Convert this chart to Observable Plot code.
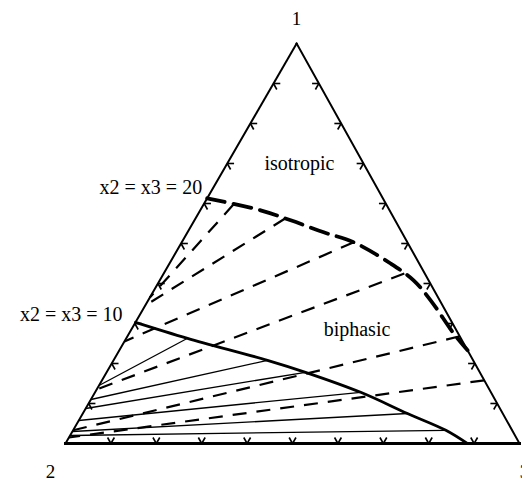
<!DOCTYPE html>
<html>
<head>
<meta charset="utf-8">
<script src="https://cdn.jsdelivr.net/npm/d3@7"></script>
<script src="https://cdn.jsdelivr.net/npm/@observablehq/plot@0.6"></script>
<style>
  html, body { margin: 0; padding: 0; background: #fff; overflow: hidden; }
</style>
</head>
<body>
<div id="chart"></div>
<script>
// Compositions in percent of component 1 (x1) and component 3 (x3); x2 = 100 - x1 - x3.

// Upper phase boundary (heavy dashed)
const upperX1 = [61.3, 58.3, 55.8, 52.8, 50.3, 45.0, 40.8, 35.8, 27.5, 23.3];
const upperX3 = [0, 13.3, 21.2, 30.0, 37.9, 48.7, 55.9, 62.2, 71.5, 76.7];

// Lower phase boundary (solid)
const lowerX1 = [30.3, 26.3, 20.8, 17.8, 12.8, 7.5, 3.3, 0];
const lowerX3 = [0, 13.5, 33.9, 43.8, 58.5, 71.5, 82.1, 88.5];

// Dashed tie lines: from the upper boundary / side 1-3 to side 1-2
const dashTopX1 = [59.8, 56.3, 50.3, 42.5, 26.8, 15.8];
const dashTopX3 = [6.6, 19.8, 37.9, 53.0, 73.2, 84.2];
const dashLeftX1 = [36.5, 34.5, 25.5, 13.5, 3.3, 1.5];

// Solid tie lines: from side 1-2 to the lower boundary
const tieLeftX1 = [14.5, 11.0, 8.75, 5.75, 3.0, 2.0];
const tieEndX1 = [26.3, 20.8, 17.8, 12.8, 7.5, 3.3];
const tieEndX3 = [13.5, 33.9, 43.8, 58.5, 71.5, 82.1];

// Grid tick positions along each side
const tickFractions = [10, 20, 30, 40, 50, 60, 70, 80, 90];

// Labels
const vertexLabels = ["1", "2", "3"];
const boundaryLabels = ["x2 = x3 = 20", "x2 = x3 = 10"];
const regionLabels = ["isotropic", "biphasic"];
const regionX1 = [70.0, 28.5];
const regionX3 = [15.9, 49.7];

// Ternary projection: component 1 at the top, 2 bottom-left, 3 bottom-right
const apexX = 0.509;
const proj = (x1, x3) => ({x: x3 / 100 + apexX * x1 / 100, y: x1 / 100});

const upper = upperX1.map((a, i) => proj(a, upperX3[i]));
const lower = lowerX1.map((a, i) => proj(a, lowerX3[i]));

const dashTies = dashTopX1.map((a, i) => {
  const p = proj(a, dashTopX3[i]), q = proj(dashLeftX1[i], 0);
  return {x1: p.x, y1: p.y, x2: q.x, y2: q.y};
});
const solidTies = tieEndX1.map((a, i) => {
  const p = proj(tieLeftX1[i], 0), q = proj(a, tieEndX3[i]);
  return {x1: p.x, y1: p.y, x2: q.x, y2: q.y};
});

const V1 = proj(100, 0), V2 = proj(0, 0), V3 = proj(0, 100);
const sides = [
  {x1: V2.x, y1: V2.y, x2: V3.x, y2: V3.y, w: 3},
  {x1: V2.x, y1: V2.y, x2: V1.x, y2: V1.y, w: 2},
  {x1: V1.x, y1: V1.y, x2: V3.x, y2: V3.y, w: 2}
];

// Each tick: two short strokes along the other two grid directions, pointing inward
const L = 1.5;
const ticks = [];
for (const t of tickFractions) {
  // side 2-3 (x1 = 0)
  let p = proj(0, t);
  for (const q of [proj(L, t), proj(L, t - L)]) ticks.push({x1: p.x, y1: p.y, x2: q.x, y2: q.y});
  // side 1-2 (x3 = 0)
  p = proj(t, 0);
  for (const q of [proj(t, L), proj(t - L, L)]) ticks.push({x1: p.x, y1: p.y, x2: q.x, y2: q.y});
  // side 1-3 (x2 = 0)
  p = proj(t, 100 - t);
  for (const q of [proj(t, 100 - t - L), proj(t - L, 100 - t)]) ticks.push({x1: p.x, y1: p.y, x2: q.x, y2: q.y});
}

const font = "Liberation Serif, Times New Roman, serif";
const textStyle = {x: "x", y: "y", text: "text", fontFamily: font, fill: "black"};

const chart = Plot.plot({
  width: 522,
  height: 483,
  margin: 0,
  x: {domain: [0, 1], range: [65, 519], axis: null},
  y: {domain: [0, 1], range: [443, 43], axis: null},
  style: {background: "white", overflow: "visible"},
  marks: [
    Plot.link(solidTies, {x1: "x1", y1: "y1", x2: "x2", y2: "y2", stroke: "black", strokeWidth: 1.3}),
    Plot.link(dashTies, {x1: "x1", y1: "y1", x2: "x2", y2: "y2", stroke: "black", strokeWidth: 2.2, strokeDasharray: "14,10"}),
    Plot.line(lower, {x: "x", y: "y", stroke: "black", strokeWidth: 2.8, curve: "catmull-rom"}),
    Plot.line(upper, {x: "x", y: "y", stroke: "black", strokeWidth: 3.8, strokeDasharray: "18,9", curve: "catmull-rom"}),
    Plot.link(sides, {x1: "x1", y1: "y1", x2: "x2", y2: "y2", stroke: "black", strokeWidth: d => d.w, strokeLinecap: "square"}),
    Plot.link(ticks, {x1: "x1", y1: "y1", x2: "x2", y2: "y2", stroke: "black", strokeWidth: 1.6}),
    // vertex names
    Plot.text([{...V1, text: vertexLabels[0]}], {...textStyle, fontSize: 19, dy: -25}),
    Plot.text([{...V2, text: vertexLabels[1]}], {...textStyle, fontSize: 19, dx: -15, dy: 28}),
    Plot.text([{...V3, text: vertexLabels[2]}], {...textStyle, fontSize: 19, dx: 5, dy: 28}),
    // boundary end labels
    Plot.text([{...upper[0], text: boundaryLabels[0]}], {...textStyle, fontSize: 20, textAnchor: "end", dx: -5, dy: -11}),
    Plot.text([{...lower[0], text: boundaryLabels[1]}], {...textStyle, fontSize: 20, textAnchor: "end", dx: -13, dy: -8}),
    // region names
    Plot.text(regionLabels.map((text, i) => ({...proj(regionX1[i], regionX3[i]), text})), {...textStyle, fontSize: 20})
  ]
});

document.getElementById("chart").appendChild(chart);
</script>
</body>
</html>
